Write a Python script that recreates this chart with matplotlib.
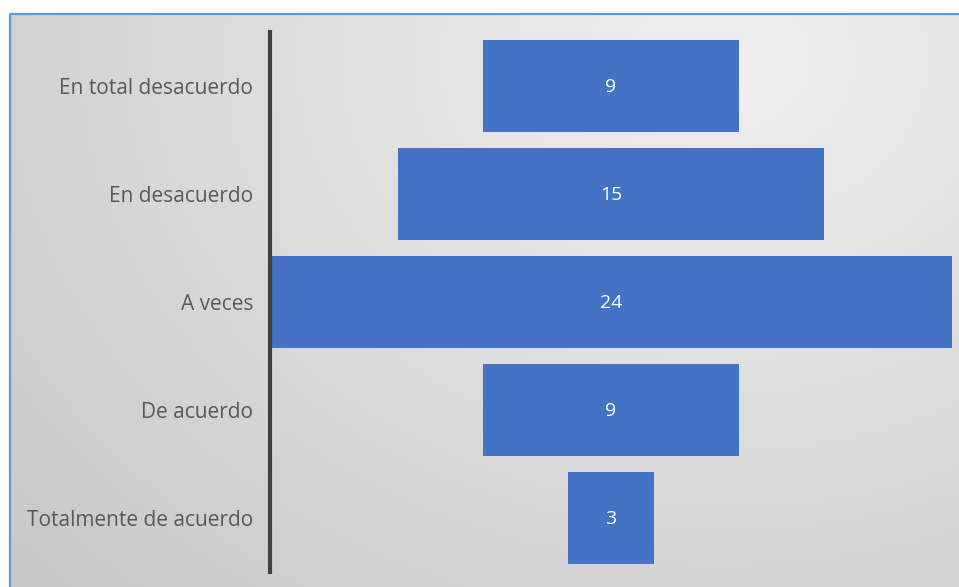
import numpy as np
import matplotlib
matplotlib.use("Agg")
import matplotlib.pyplot as plt

categories = ["En total desacuerdo", "En desacuerdo", "A veces", "De acuerdo", "Totalmente de acuerdo"]
values = [9, 15, 24, 9, 3]

W, H, DPI = 959, 587, 100
fig = plt.figure(figsize=(W / DPI, H / DPI), dpi=DPI)

# Background panel: soft radial grey gradient inside a thin blue frame
bg = fig.add_axes([0, 0, 1, 1], zorder=0)
yy, xx = np.mgrid[0:H, 0:W]
r = np.hypot((xx - 720) / 950.0, (yy - 60) / 750.0)
t = np.clip(r, 0, 1)
light, dark = 0.94, 0.785
shade = light + (dark - light) * t
img = np.dstack([shade, shade, shade])
img[:13, :, :] = 1.0
img[:, :9, :] = 1.0
bg.imshow(img, extent=(0, W, H, 0), aspect="auto", interpolation="bilinear")
bg.plot([9.5, W], [13.5, 13.5], color="#5B9BD5", lw=1.6, solid_capstyle="butt")
bg.plot([9.5, 9.5], [13.5, H], color="#5B9BD5", lw=1.6, solid_capstyle="butt")
bg.set_xlim(0, W)
bg.set_ylim(H, 0)
bg.axis("off")

# Funnel: bars centred on the widest category
ax = fig.add_axes([270 / W, (H - 572) / H, (952 - 270) / W, 540 / H], zorder=1)
ax.patch.set_alpha(0)
vmax = max(values)
y = np.arange(len(categories))
lefts = [(vmax - v) / 2 for v in values]
ax.barh(y, values, left=lefts, height=0.85, color="#4472C4")
for yi, v, lft in zip(y, values, lefts):
    ax.text(lft + v / 2, yi + 0.01, str(v), ha="center", va="center",
            color="white", fontsize=14, family="Open Sans")

ax.set_xlim(0, vmax)
ax.set_ylim(len(categories) - 0.5, -0.5)
ax.set_yticks(y)
ax.set_yticklabels(categories, fontsize=15, color="#595959", family="Open Sans")
ax.tick_params(axis="y", length=0, pad=12)
ax.set_xticks([])
for s in ["top", "right", "bottom"]:
    ax.spines[s].set_visible(False)
ax.spines["left"].set_color("#404040")
ax.spines["left"].set_linewidth(3)

fig.savefig("out.png", dpi=DPI)
